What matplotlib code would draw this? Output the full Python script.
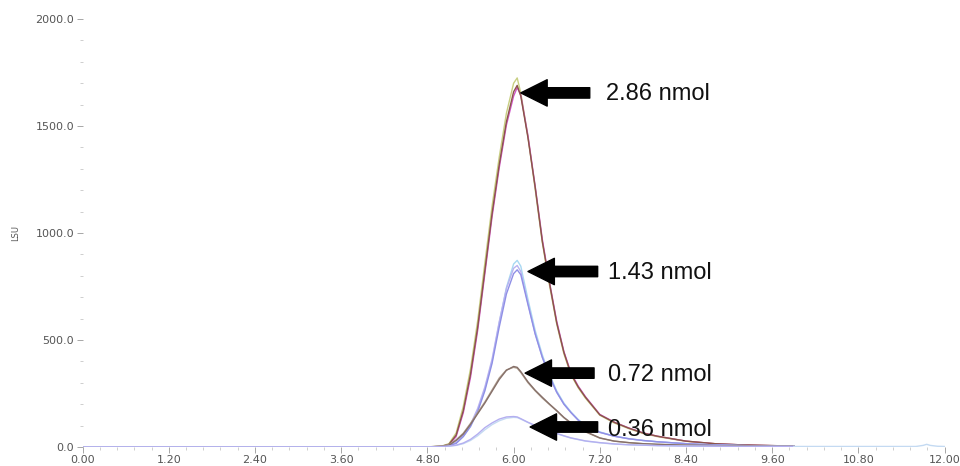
import matplotlib
matplotlib.use("Agg")
import matplotlib.pyplot as plt
from matplotlib.ticker import MultipleLocator, FormatStrFormatter

# --- data (time in min, signal in LSU) ---
time_min = [0.0, 4.8, 5.0, 5.1, 5.2, 5.3, 5.4, 5.5, 5.6, 5.7, 5.8, 5.9, 6.0, 6.05,
            6.1, 6.2, 6.3, 6.4, 6.5, 6.6, 6.7, 6.8, 6.9, 7.0, 7.2, 7.4, 7.6, 7.8,
            8.0, 8.4, 8.8, 9.2, 9.6, 9.9]

# 2.86 nmol injections
green_286 = [0, 0, 4, 15, 65, 190, 365, 590, 860, 1125, 1355, 1560, 1700, 1725,
             1655, 1450, 1205, 955, 755, 575, 435, 336, 276, 228, 148, 112, 86, 63,
             48, 26, 15, 9, 6, 4]
brown_286 = [0, 0, 3, 12, 55, 170, 340, 560, 825, 1090, 1320, 1520, 1660, 1690,
             1640, 1445, 1215, 960, 765, 580, 442, 340, 280, 232, 150, 115, 88, 65,
             50, 27, 15, 9, 6, 4]
magenta_286 = [0, 0, 2, 10, 48, 160, 325, 545, 810, 1075, 1305, 1505, 1640, 1680,
               1645, 1455, 1220, 970, 770, 588, 446, 345, 284, 235, 152, 116, 89, 66,
               50, 27, 15, 9, 6, 4]

# 1.43 nmol injections
cyan_143 = [0, 0, 2, 7, 18, 50, 98, 170, 270, 400, 580, 745, 855, 872,
            845, 690, 545, 430, 338, 262, 205, 163, 128, 100, 70, 51, 39, 30,
            24, 15, 9, 6, 4, 3]
lavender_143 = [0, 0, 2, 8, 20, 55, 105, 180, 280, 410, 585, 740, 835, 848,
                820, 671, 530, 420, 330, 255, 200, 160, 125, 98, 68, 50, 38, 30,
                24, 15, 9, 6, 4, 3]
blue_143 = [0, 0, 1, 6, 16, 48, 95, 165, 262, 390, 560, 715, 810, 828,
            805, 665, 528, 418, 330, 256, 200, 160, 125, 98, 68, 50, 38, 30,
            24, 15, 9, 6, 4, 3]

# 0.72 nmol injections
brown_072 = [0, 0, 2, 8, 30, 60, 105, 155, 205, 260, 315, 358, 376, 372,
             352, 304, 265, 232, 200, 170, 138, 112, 92, 72, 42, 27, 20, 15,
             12, 8, 6, 4, 3, 3]
tan_072 = [0, 0, 3, 10, 33, 64, 110, 160, 210, 266, 322, 360, 372, 368,
           348, 300, 262, 228, 198, 168, 136, 110, 90, 70, 41, 27, 20, 15,
           12, 8, 6, 4, 3, 3]

# 0.36 nmol injections
lavender_036 = [0, 0, 1, 4, 8, 18, 35, 60, 90, 112, 130, 140, 142, 140,
                132, 115, 100, 88, 75, 63, 52, 42, 35, 28, 20, 14, 10, 8,
                6, 4, 3, 2, 2, 2]
sky_036 = [0, 0, 1, 3, 7, 15, 30, 52, 80, 104, 122, 134, 138, 137,
           130, 114, 99, 86, 74, 62, 51, 41, 34, 27, 19, 13, 10, 8,
           6, 4, 3, 2, 2, 2]

# one trace keeps recording to 12 min
tail_time = [9.9, 11.6, 11.7, 11.75, 11.8, 11.9, 12.0]
tail_lsu = [2, 2, 7, 12, 7, 3, 2]

# arrow labels: text, arrow tip (time, LSU), arrow tail time, text time, text LSU
labels = ['2.86 nmol', '1.43 nmol', '0.72 nmol', '0.36 nmol']
tip_t = [6.10, 6.20, 6.16, 6.23]
tip_y = [1655, 820, 345, 93]
tail_t = [7.06, 7.17, 7.12, 7.17]
text_t = [7.28, 7.31, 7.32, 7.31]
text_y = [1650, 811, 336, 79]

# --- plotting ---
fig = plt.figure(figsize=(9.6, 4.66), dpi=100)
ax = fig.add_axes([0.086, 0.041, 0.898, 0.918])

traces = [
    (green_286, '#c8cf82'), (magenta_286, '#d055c8'), (brown_286, '#8a5648'),
    (cyan_143, '#a8d8f2'), (lavender_143, '#b9b2f0'), (blue_143, '#8f8fe6'),
    (tan_072, '#b0a090'), (brown_072, '#86706a'),
    (sky_036, '#c4daf2'), (lavender_036, '#b4aef0'),
]
for vals, col in traces:
    ax.plot(time_min, vals, color=col, lw=1.0)
ax.plot(tail_time, tail_lsu, color='#c4daf2', lw=1.0)

for i in range(len(labels)):
    ax.annotate('', xy=(tip_t[i], tip_y[i]), xytext=(tail_t[i], tip_y[i]),
                arrowprops=dict(arrowstyle='simple,head_length=19,head_width=19,tail_width=7.5',
                                mutation_scale=1, color='black', shrinkA=0, shrinkB=0))
    ax.text(text_t[i], text_y[i], labels[i], fontsize=17, family='Liberation Sans',
            va='center', ha='left', color='#111111')

ax.set_xlim(0, 12)
ax.set_ylim(0, 2000)
for s in ax.spines.values():
    s.set_visible(False)

ax.xaxis.set_major_locator(MultipleLocator(1.2))
ax.xaxis.set_minor_locator(MultipleLocator(0.24))
ax.yaxis.set_major_locator(MultipleLocator(500))
ax.yaxis.set_minor_locator(MultipleLocator(100))
ax.xaxis.set_major_formatter(FormatStrFormatter('%.2f'))
ax.yaxis.set_major_formatter(FormatStrFormatter('%.1f'))
ax.tick_params(which='major', length=4, width=0.6, color='#999999',
               labelsize=8, labelcolor='#555555', pad=2)
ax.tick_params(which='minor', length=2, width=0.5, color='#bbbbbb')

fig.text(0.016, 0.5, 'LSU', rotation=90, fontsize=6, color='#555555',
         va='center', ha='center')

fig.savefig('out.png', dpi=100)
